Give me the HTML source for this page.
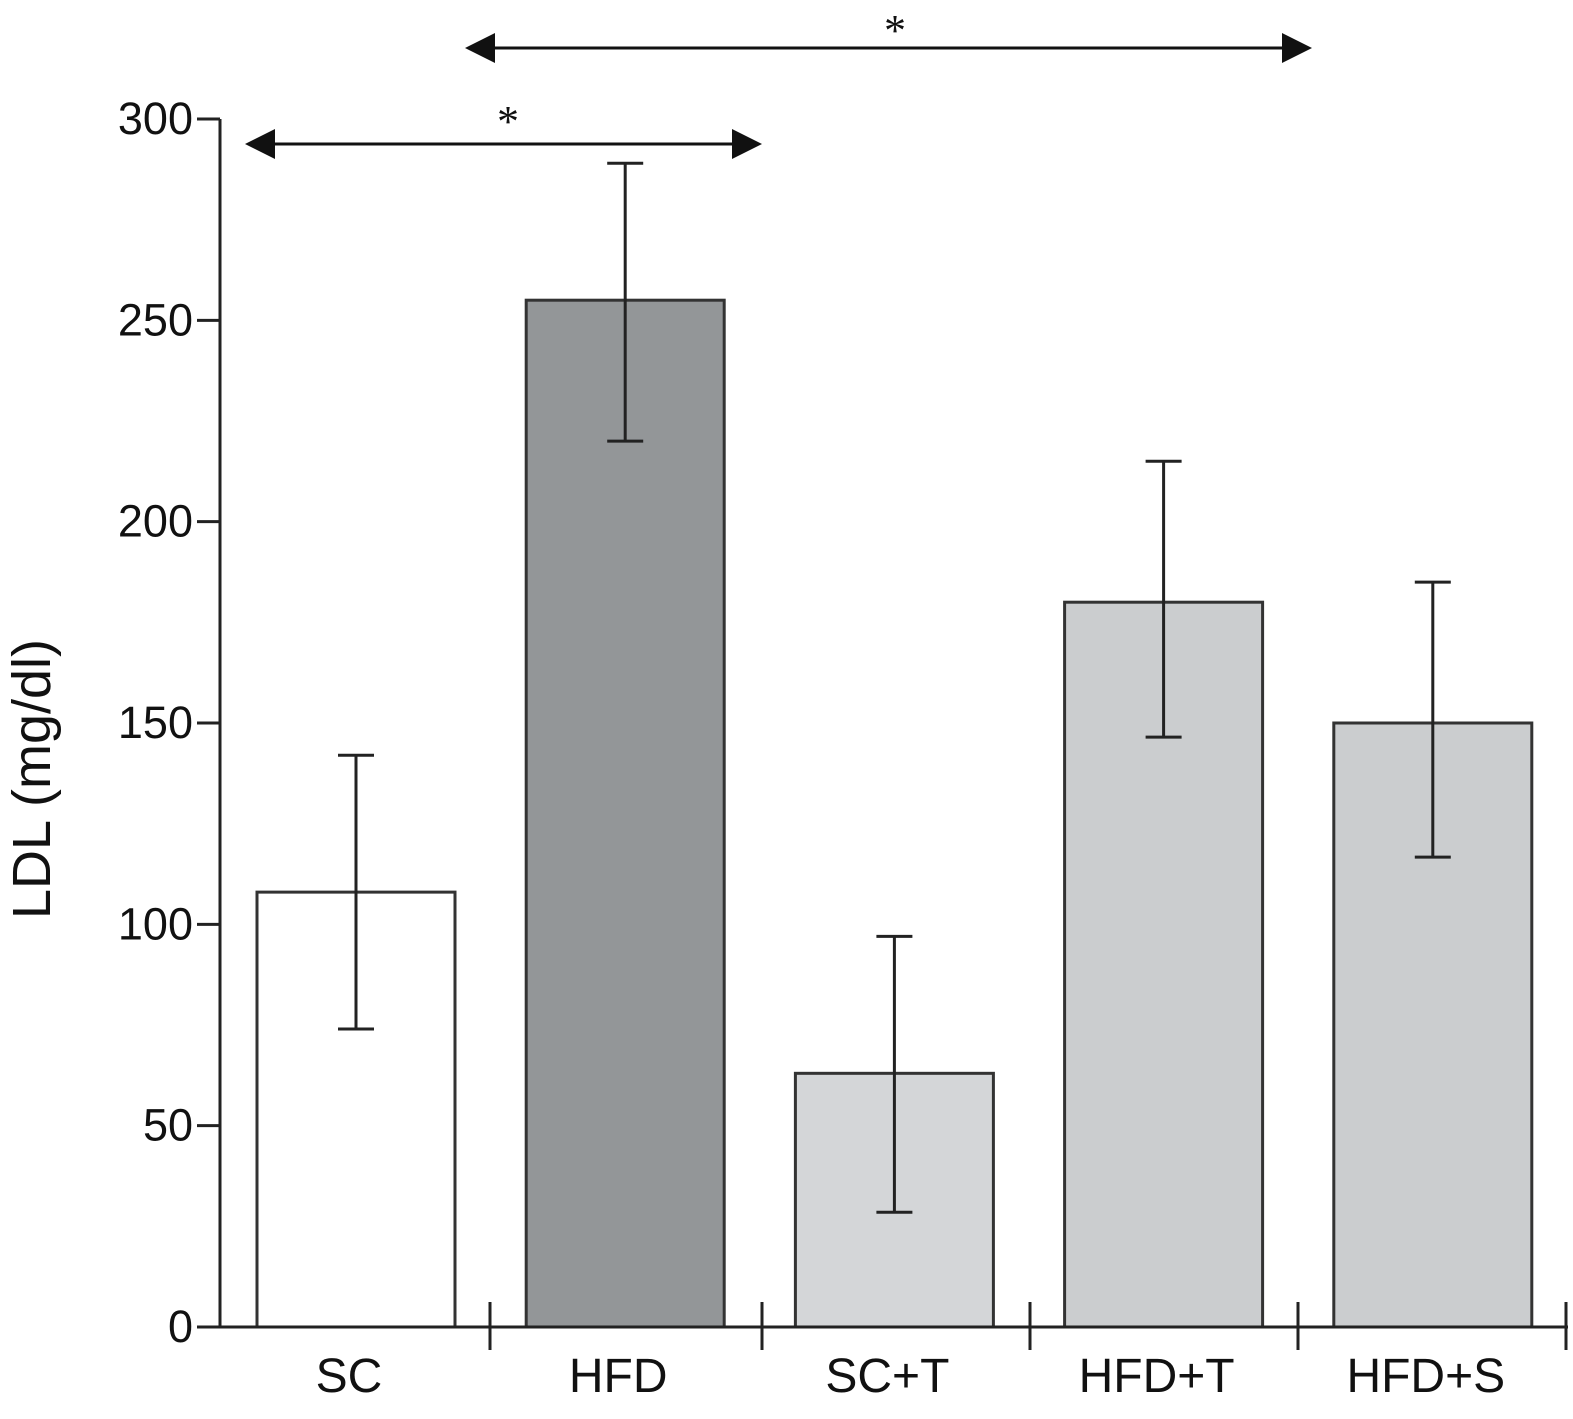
<!DOCTYPE html>
<html><head><meta charset="utf-8"><style>
html,body{margin:0;padding:0;background:#fff;}
svg{display:block;font-family:"Liberation Sans",Arial,sans-serif;}
</style></head><body>
<svg id="chart" width="1573" height="1419" viewBox="0 0 1573 1419">
<defs>
<marker id="ah" viewBox="0 0 10 10" refX="9" refY="5" markerWidth="30" markerHeight="30" markerUnits="userSpaceOnUse" orient="auto-start-reverse"><path d="M0,0 L10,5 L0,10 z" fill="#111"/></marker>
</defs>
<g id="plot"></g>
</svg>
<script>
const categories = ["SC","HFD","SC+T","HFD+T","HFD+S"];
const values = [108, 255, 63, 180, 150];
const errLow = [74, 220, 28.5, 146.5, 116.7];
const errHigh = [142, 289, 97, 215, 185];
const fills = ["#ffffff","#939698","#d4d6d8","#cbcdcf","#cbcdcf"];
const yTicks = [0,50,100,150,200,250,300];

const NS="http://www.w3.org/2000/svg";
const g=document.getElementById('plot');
const x0=220, y0=1327, yTop=119, yMax=300;
function y(v){return y0-(v/yMax)*(y0-yTop);}
function xc(i){return 356+i*269.2;}
function mk(tag,attrs){const e=document.createElementNS(NS,tag);for(const k in attrs)e.setAttribute(k,attrs[k]);g.appendChild(e);return e;}

categories.forEach((c,i)=>{
  const b=mk('rect',{x:xc(i)-99,y:y(values[i]),width:198,height:y0-y(values[i]),fill:fills[i],stroke:'#333','stroke-width':3});
  
  
  const e=mk('path',{d:`M${xc(i)},${y(errHigh[i])}V${y(errLow[i])}M${xc(i)-18},${y(errHigh[i])}h36M${xc(i)-18},${y(errLow[i])}h36`,stroke:'#222','stroke-width':3,fill:'none'});
  
  
  const t=mk('text',{x:xc(i)-7,y:1392,'text-anchor':'middle','font-size':48,fill:'#111'});
  t.textContent=c;
  
  
});
const ya=mk('line',{x1:x0,y1:y0,x2:x0,y2:yTop,stroke:'#222','stroke-width':3});


const xa=mk('line',{x1:x0,y1:y0,x2:1568,y2:y0,stroke:'#222','stroke-width':3});


[490,762,1030,1298,1566].forEach(xx=>{
  const t=mk('line',{x1:xx,y1:1302,x2:xx,y2:1350,stroke:'#222','stroke-width':3});
  
  
});
yTicks.forEach(v=>{
  const t=mk('line',{x1:197,y1:y(v),x2:x0,y2:y(v),stroke:'#222','stroke-width':3});
  
  
  const l=mk('text',{x:193,y:y(v)+15,'text-anchor':'end','font-size':45,fill:'#111'});
  l.textContent=v;
  
  
});
const yt=mk('text',{x:0,y:0,transform:'translate(50,779) rotate(-90)','text-anchor':'middle','font-size':54,fill:'#111'});
yt.textContent='LDL (mg/dl)';


[[246,761,144,508,136],[466,1311,48,895,45]].forEach(([a,b,yy,sx,sy],k)=>{
  const l=mk('line',{x1:a+2,y1:yy,x2:b-2,y2:yy,stroke:'#111','stroke-width':3,'marker-start':'url(#ah)','marker-end':'url(#ah)'});
  
  
  const s=mk('text',{x:sx,y:sy,'text-anchor':'middle','font-size':44,fill:'#111','font-family':'Liberation Serif, serif'});
  s.textContent='*';
  
  
});
</script>
</body></html>
